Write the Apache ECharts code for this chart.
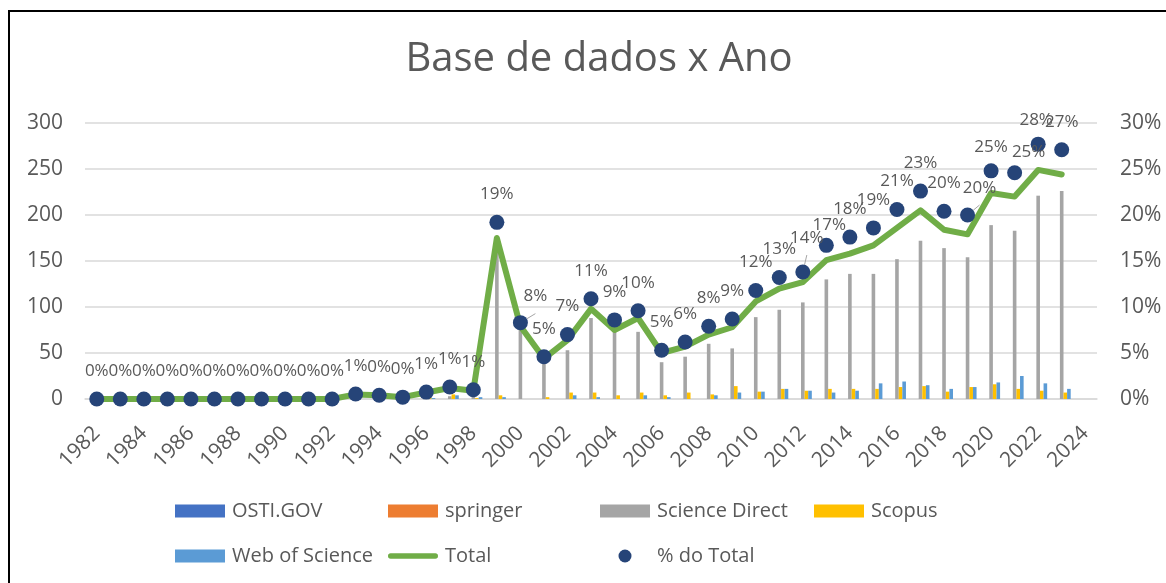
<!DOCTYPE html>
<html>
<head>
<meta charset="utf-8">
<script src="https://cdn.jsdelivr.net/npm/echarts@6/dist/echarts.min.js"></script>
<style>
    html, body { margin: 0; padding: 0; background: #fff; }
    #chart { width: 1166px; height: 583px; }
</style>
</head>
<body>
<div id="chart"></div>
<script>
// categories (2024 is an empty slot at the end of the axis)
const years = ['1982', '1983', '1984', '1985', '1986', '1987', '1988', '1989', '1990', '1991',
    '1992', '1993', '1994', '1995', '1996', '1997', '1998', '1999', '2000', '2001',
    '2002', '2003', '2004', '2005', '2006', '2007', '2008', '2009', '2010', '2011',
    '2012', '2013', '2014', '2015', '2016', '2017', '2018', '2019', '2020', '2021',
    '2022', '2023', '2024']

// counts per database
const ostiGov = [0, 0, 0, 0, 0, 0, 0, 0, 0, 0, 0,
    0, 0, 0, 0, 0, 0,
    0, 0, 0, 0, 0, 0, 0, 0, 0, 0, 0, 0, 0, 0, 0, 0, 0, 0, 0, 0, 0, 0, 0, 0, 0, null]
const springer = [0, 0, 0, 0, 0, 0, 0, 0, 0, 0, 0,
    0, 0, 0, 0, 0, 0,
    0, 0, 0, 0, 0, 0, 0, 0, 0, 0, 0, 0, 0, 0, 0, 0, 0, 0, 0, 0, 0, 0, 0, 0, 0, null]
const scienceDirect = [0, 0, 0, 0, 0, 0, 0, 0, 0, 0, 0,
    3, 3, 2, 5, 3, 6,
    169, 75, 40, 53, 88, 74, 73, 40, 46, 60, 55, 89, 97, 105, 130, 136, 136, 152, 172, 164, 154, 189, 183, 221, 226, null]
const scopus = [0, 0, 0, 0, 0, 0, 0, 0, 0, 0, 0,
    1, 1, 0, 1, 5, 1,
    4, 0, 2, 7, 7, 4, 7, 4, 7, 5, 14, 8, 11, 9, 11, 11, 11, 13, 14, 8, 13, 16, 11, 9, 7, null]
const webOfScience = [0, 0, 0, 0, 0, 0, 0, 0, 0, 0, 0,
    0, 0, 0, 1, 4, 2,
    2, 0, 0, 4, 2, 0, 4, 2, 0, 4, 7, 8, 11, 9, 7, 9, 17, 19, 15, 11, 13, 18, 25, 17, 11, null]
const total = [0, 0, 0, 0, 0, 0, 0, 0, 0, 0, 0,
    5, 4, 2, 7, 12, 9,
    175, 79, 44, 64, 98, 75, 88, 50, 57, 70, 78, 106, 120, 127, 151, 158, 167, 186, 205, 184, 179, 224, 220, 249, 244, null]
// "% do Total", right axis
const pctTotal = [0, 0, 0, 0, 0, 0, 0, 0, 0, 0, 0,
    0.55, 0.4, 0.2, 0.75, 1.3, 1.0,
    19.2, 8.3, 4.6, 7.0, 10.9, 8.6, 9.6, 5.3, 6.2, 7.9, 8.7, 11.8, 13.2, 13.8, 16.7, 17.6, 18.6, 20.6, 22.6, 20.4, 20.0, 24.8, 24.6, 27.7, 27.1, null]

const leftTicks = { min: 0, max: 300, interval: 50 }
const rightTicks = { min: 0, max: 30, interval: 5 }

// a few labels sit off their default spot in the original (dx, dy, leader line)
const labelNudge = {
    '2000': [15, 2, true],
    '2012': [4, -6, true],
    '2013': [3, 8],
    '2019': [12, 1, true],
    '2020': [0, 4],
    '2021': [14, 7],
    '2022': [-2, 4],
}

const textGrey = '#595959'
const gridGrey = '#D9D9D9'
const font = 'Open Sans'
const green = '#70AD47'

const barSeries = (name, values, color) => ({
    name,
    type: 'bar',
    data: values,
    barWidth: 3.6,
    barGap: '0%',
    itemStyle: { color },
    z: 1,
})

const pctData = pctTotal.map((v, i) => {
    const n = labelNudge[years[i]]
    if (!n || v == null) return v
    return {
        value: v,
        label: { offset: [n[0], n[1]] },
        labelLine: { show: !!n[2], lineStyle: { color: '#A6A6A6', width: 1 } },
    }
})

const legendText = { fontSize: 20, color: textGrey, fontFamily: font, lineHeight: 22, padding: [0, 0, 0, 2] }
const legendCol = (left, data) => ({
    orient: 'vertical',
    left,
    top: 500,
    padding: 0,
    itemWidth: 50,
    itemHeight: 13,
    itemGap: 23,
    textStyle: legendText,
    data,
})
// thick rounded stroke for the "Total" legend key
const lineIcon = 'path://M3,0H53A3,3 0 0 1 53,6H3A3,3 0 0 1 3,0Z'

const chart = echarts.init(document.getElementById('chart'))

chart.setOption({
    animation: false,
    backgroundColor: '#fff',
    textStyle: { fontFamily: font },
    title: {
        text: 'Base de dados x Ano',
        left: 594,
        textAlign: 'center',
        top: 35,
        textStyle: { fontSize: 40, fontWeight: 'normal', color: textGrey, fontFamily: font },
    },
    graphic: [{
        type: 'rect',
        shape: { x: 9, y: 11, width: 1300, height: 700 },
        style: { fill: 'none', stroke: '#000', lineWidth: 2 },
        silent: true,
    }],
    legend: [
        legendCol(175, [{ name: 'OSTI.GOV', icon: 'rect' }, { name: 'Web of Science', icon: 'rect' }]),
        legendCol(388, [{ name: 'springer', icon: 'rect' }, { name: 'Total', icon: lineIcon, itemStyle: { color: green } }]),
        legendCol(600, [{ name: 'Science Direct', icon: 'rect' }, { name: '% do Total', icon: 'circle' }]),
        legendCol(814, [{ name: 'Scopus', icon: 'rect' }]),
    ],
    grid: { left: 85, right: 69, top: 123, bottom: 184, outerBoundsMode: 'none' },
    xAxis: {
        type: 'category',
        data: years,
        boundaryGap: true,
        axisLine: { lineStyle: { color: gridGrey, width: 1.5 } },
        axisTick: { show: false },
        axisLabel: {
            interval: 1,
            rotate: 45,
            margin: 31,
            fontSize: 21,
            color: textGrey,
            fontFamily: font,
        },
    },
    yAxis: [
        {
            type: 'value',
            ...leftTicks,
            axisLine: { show: false },
            axisTick: { show: false },
            splitLine: { lineStyle: { color: gridGrey, width: 1.5 } },
            axisLabel: { fontSize: 21, color: textGrey, margin: 22, fontFamily: font },
        },
        {
            type: 'value',
            ...rightTicks,
            position: 'right',
            axisLine: { show: false },
            axisTick: { show: false },
            splitLine: { show: false },
            axisLabel: { fontSize: 21, color: textGrey, margin: 23, formatter: '{value}%', fontFamily: font },
        },
    ],
    series: [
        barSeries('OSTI.GOV', ostiGov, '#4472C4'),
        barSeries('springer', springer, '#ED7D31'),
        barSeries('Science Direct', scienceDirect, '#A5A5A5'),
        barSeries('Scopus', scopus, '#FFC000'),
        barSeries('Web of Science', webOfScience, '#5B9BD5'),
        {
            name: 'Total',
            type: 'line',
            data: total,
            symbol: 'none',
            lineStyle: { color: green, width: 6, cap: 'round', join: 'round' },
            itemStyle: { color: green },
            z: 3,
        },
        {
            name: '% do Total',
            type: 'scatter',
            yAxisIndex: 1,
            data: pctData,
            symbolSize: 15,
            itemStyle: { color: '#264478', opacity: 1 },
            label: {
                show: true,
                position: 'top',
                distance: 12,
                fontSize: 17,
                color: textGrey,
                fontFamily: font,
                formatter: (p) => Math.round(p.value) + '%',
            },
            z: 4,
        },
    ],
})
</script>
</body>
</html>
